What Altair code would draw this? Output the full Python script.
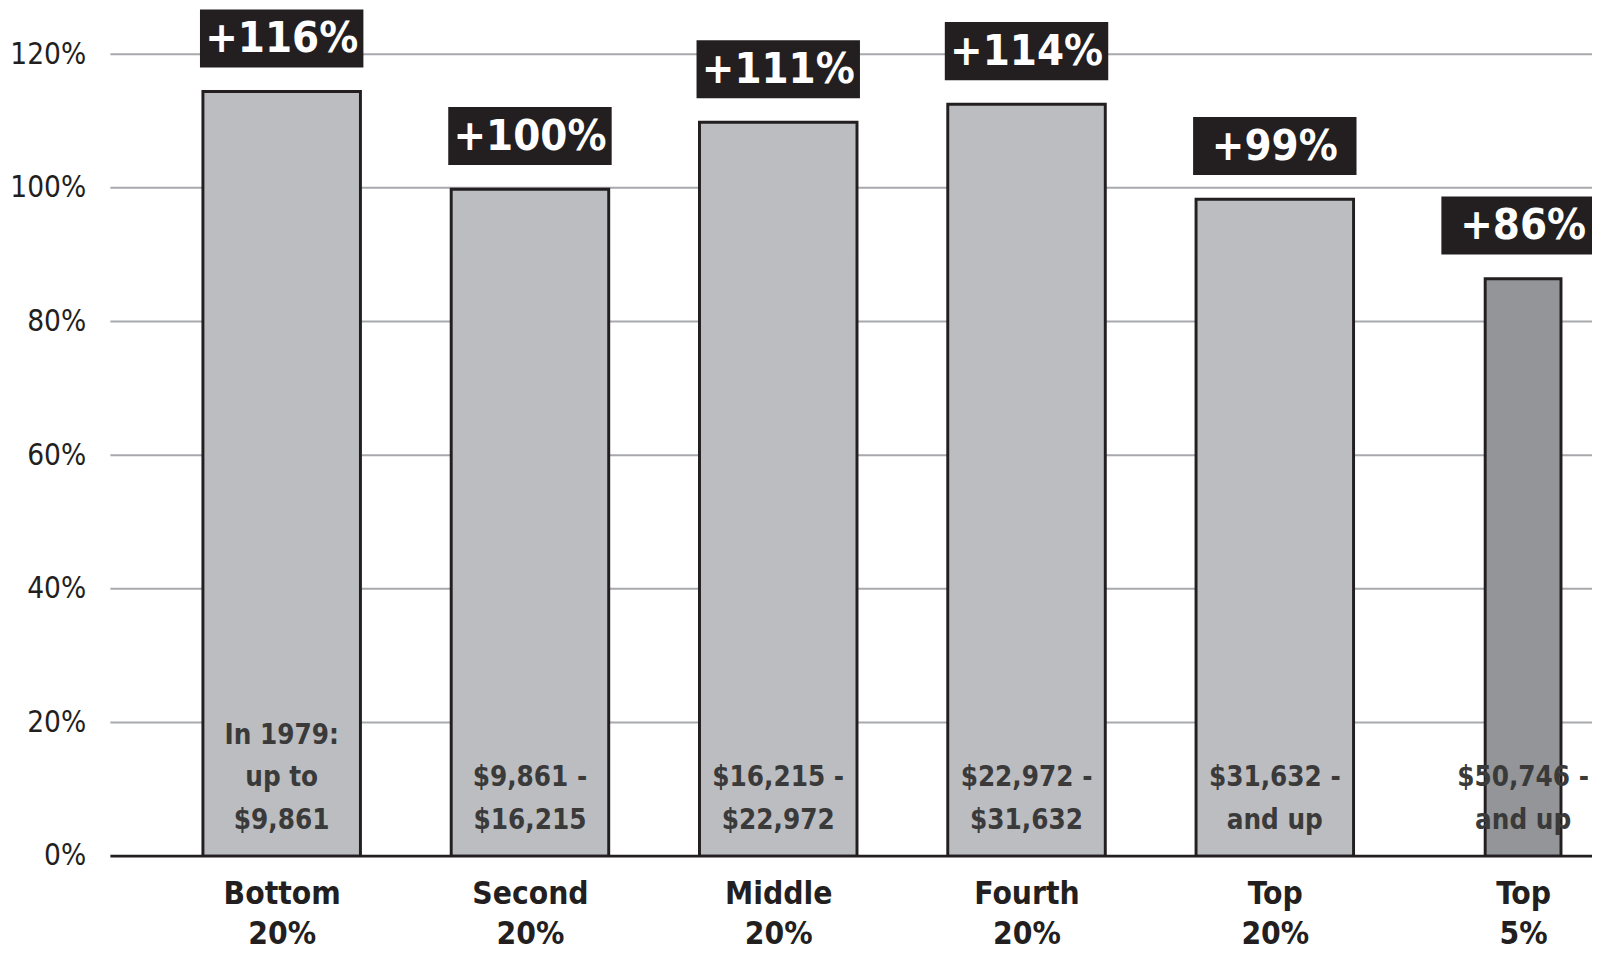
import altair as alt
import pandas as pd

groups = ["Bottom 20%", "Second 20%", "Middle 20%", "Fourth 20%", "Top 20%", "Top 5%"]
bar_heights = [114.4, 99.8, 109.8, 112.5, 98.3, 86.4]
change_labels = ["+116%", "+100%", "+111%", "+114%", "+99%", "+86%"]
income_1979 = [
    "In 1979:\nup to\n$9,861",
    "$9,861 -\n$16,215",
    "$16,215 -\n$22,972",
    "$22,972 -\n$31,632",
    "$31,632 -\nand up",
    "$50,746 -\nand up",
]
is_top5 = [False, False, False, False, False, True]
y_ticks = [0, 20, 40, 60, 80, 100, 120]

df = pd.DataFrame({
    "group": groups,
    "height": bar_heights,
    "change": change_labels,
    "income": income_1979,
    "top5": is_top5,
})
grid_df = pd.DataFrame({"tick": y_ticks[1:]})

FONT = "DejaVu Sans Condensed, sans-serif"
DARK = "#231f20"
PLOT_H = 854
Y_MAX = 125.8
PX_PER_UNIT = PLOT_H / Y_MAX
LINE_H = 43

x_enc = alt.X(
    "group:N",
    sort=groups,
    scale=alt.Scale(type="point", range=[174, 1435], padding=0),
    axis=alt.Axis(
        title=None, domain=False, ticks=False, grid=False, labelAngle=0,
        labelExpr="split(datum.label, ' ')",
        labelFont=FONT, labelFontSize=32, labelFontWeight="bold",
        labelColor=DARK, labelLineHeight=41, labelPadding=23,
    ),
)
y_scale = alt.Scale(domain=[0, Y_MAX], nice=False, zero=True)
y_enc = alt.Y(
    "height:Q",
    scale=y_scale,
    axis=alt.Axis(
        title=None, values=y_ticks, labelExpr="datum.value + '%'",
        domain=False, ticks=False, grid=False, labelPadding=25,
        labelFont=FONT, labelFontSize=30, labelColor=DARK,
    ),
)

base = alt.Chart(df)

grid = alt.Chart(grid_df).mark_rule(color="#a7a9ac", strokeWidth=2).encode(
    y=alt.Y("tick:Q", scale=y_scale)
)

bars = base.mark_bar(stroke=DARK, strokeWidth=3, clip=True).encode(
    x=x_enc,
    y=y_enc,
    size=alt.condition("datum.top5", alt.value(77), alt.value(160)),
    color=alt.condition("datum.top5", alt.value("#939598"), alt.value("#bcbdc0")),
)

baseline = alt.Chart(pd.DataFrame({"v": [0]})).mark_rule(
    color=DARK, strokeWidth=3
).encode(y="v:Q")

boxes = base.mark_tick(
    orient="horizontal", size=166, thickness=59, color=DARK, opacity=1,
    yOffset=-54,
).encode(x=alt.X("group:N", sort=groups), y="height:Q")

box_text = base.mark_text(
    font=FONT, fontSize=44, fontWeight="bold", color="white",
    baseline="middle", dy=-53,
).encode(x=alt.X("group:N", sort=groups), y="height:Q", text="change:N")

income_text = base.transform_calculate(
    nlines="length(split(datum.income, '\\n'))",
    text_y=f"(28 + (datum.nlines - 1) * {LINE_H}) / {PX_PER_UNIT}",
).mark_text(
    font=FONT, fontSize=28, fontWeight="bold", color="#3a3a3a",
    baseline="alphabetic", lineBreak="\n", lineHeight=LINE_H,
).encode(x=alt.X("group:N", sort=groups), y="text_y:Q", text="income:N")

chart = alt.layer(grid, bars, baseline, boxes, box_text, income_text).properties(
    width=1505, height=PLOT_H,
    autosize=alt.AutoSizeParams(type="none"),
    padding={"left": 104, "top": 0, "right": 0, "bottom": 100},
    background="white",
).configure_view(stroke=None)

chart.save("out.html", embed_options={"renderer": "svg", "actions": False})
